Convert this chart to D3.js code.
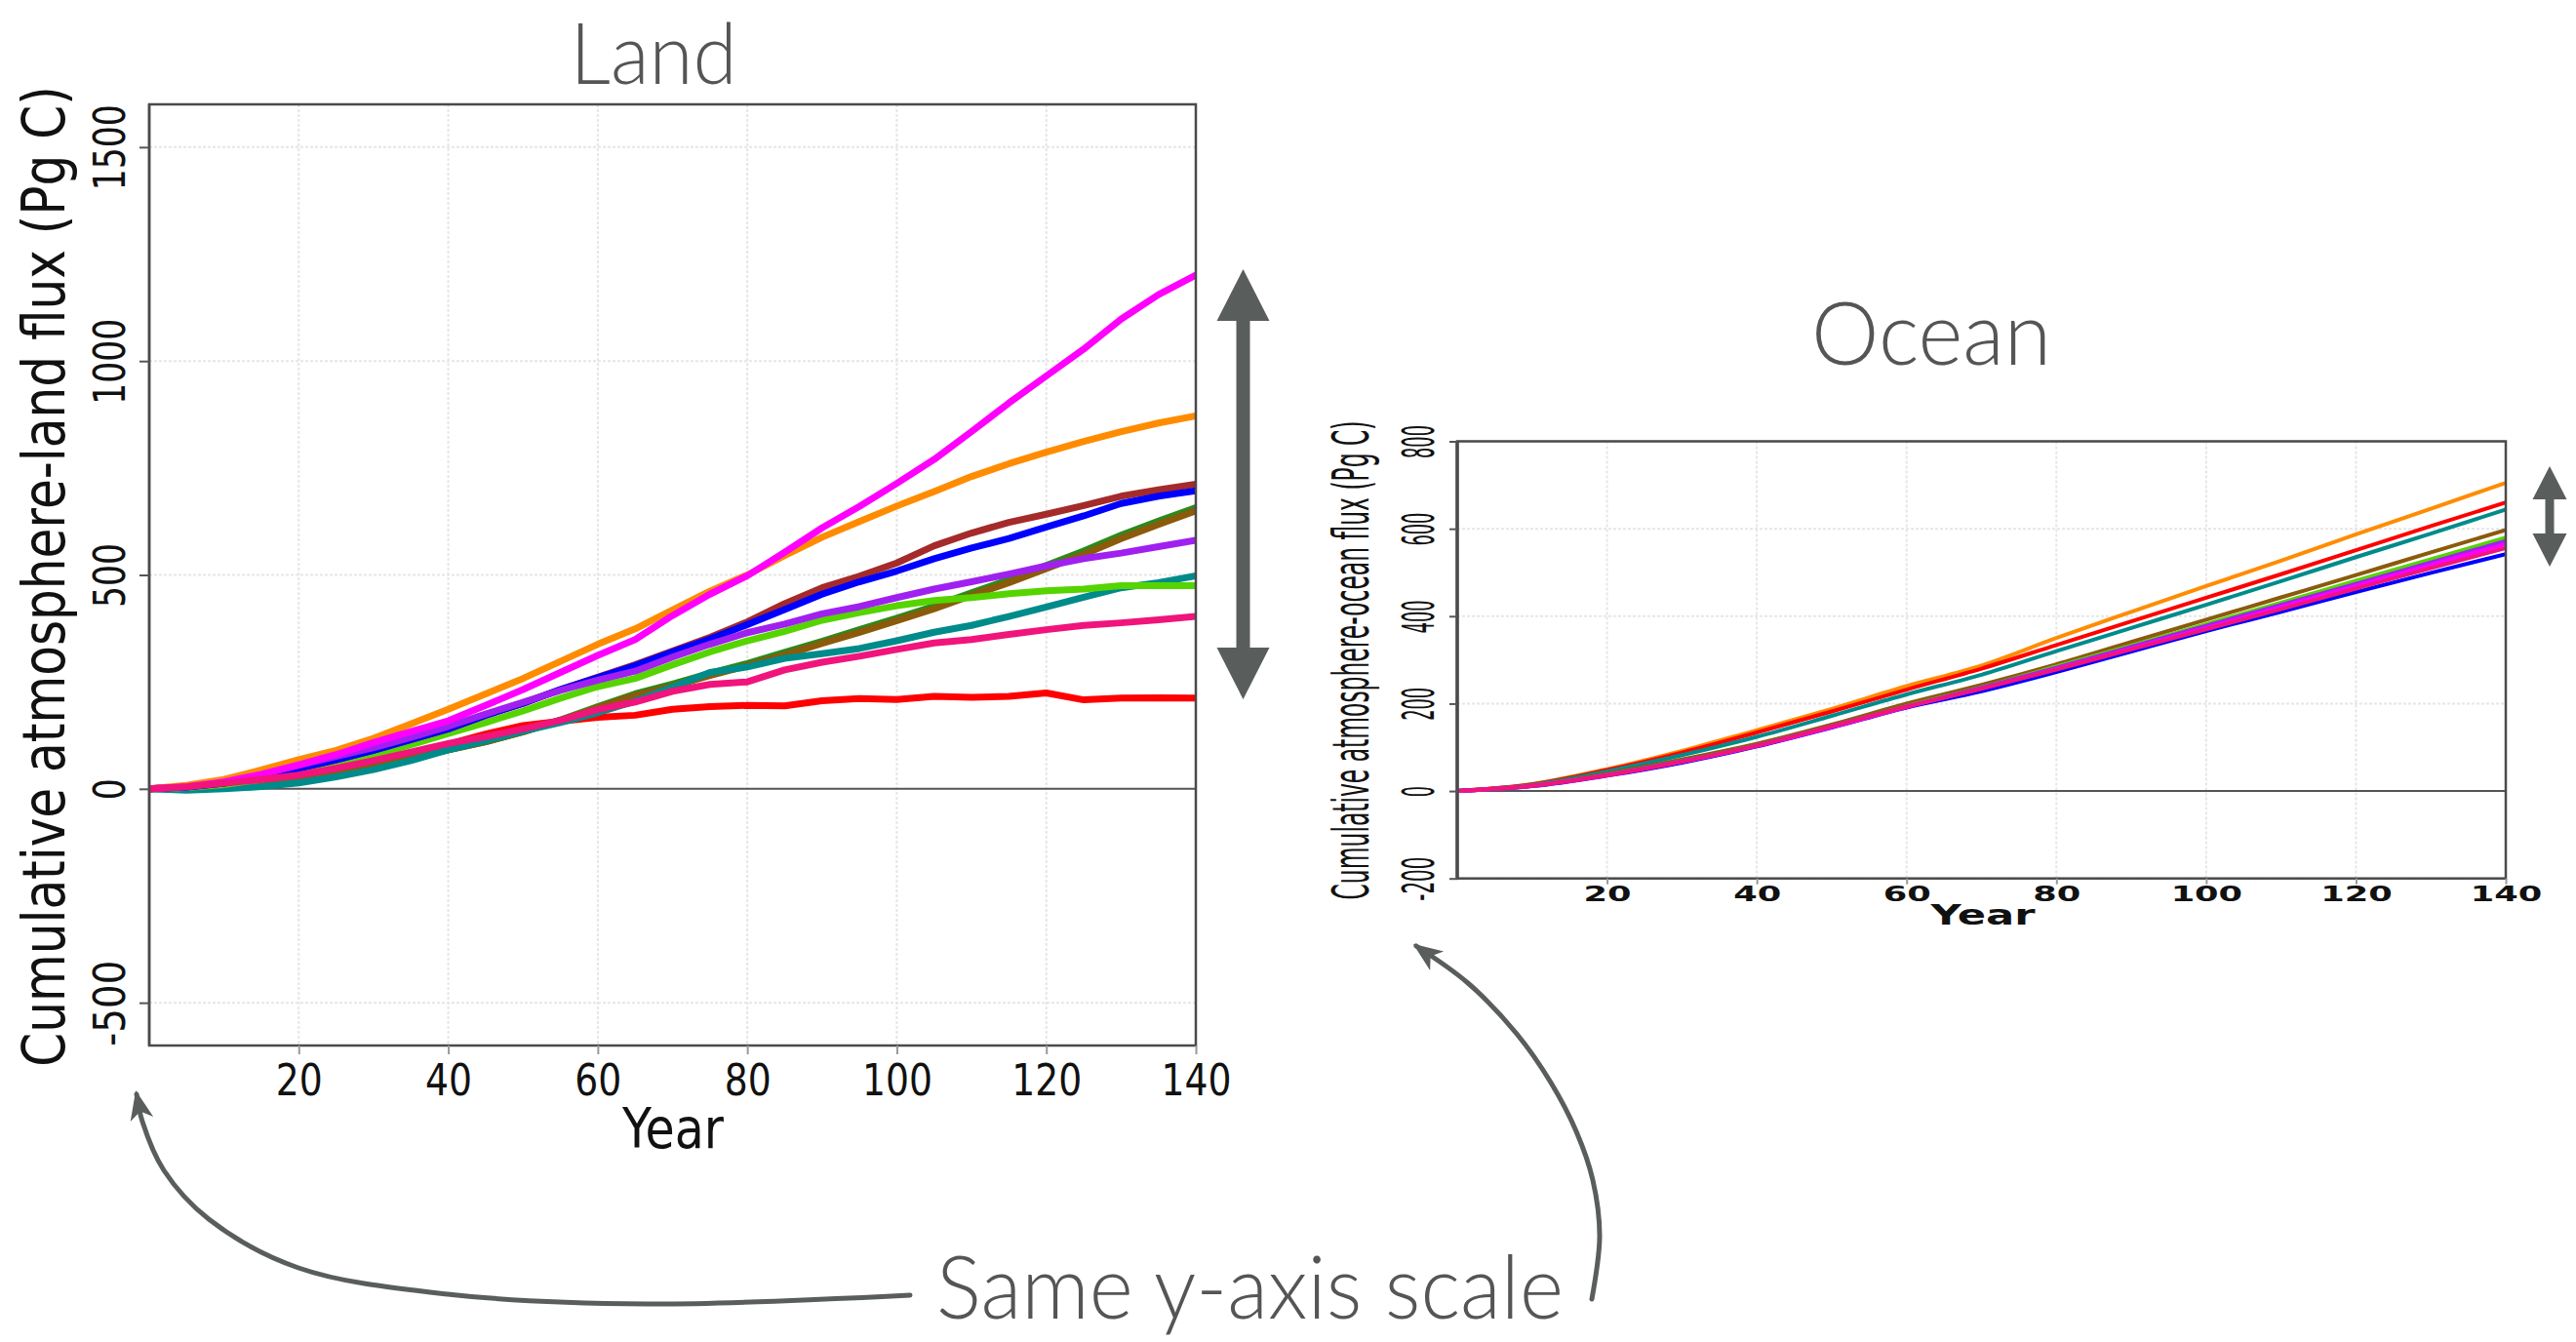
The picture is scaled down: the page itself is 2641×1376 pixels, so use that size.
<!DOCTYPE html>
<html>
<head>
<meta charset="utf-8">
<script src="https://cdn.jsdelivr.net/npm/d3@7"></script>
<style>
  body { margin: 0; background: #fff; }
  svg { display: block; }
</style>
</head>
<body>
<svg id="chart" width="2641" height="1376"></svg>
<script>
// ---- data: land (every 5 years) ----
const landYears = [0, 5, 10, 15, 20, 25, 30, 35, 40, 45, 50, 55, 60, 65, 70, 75, 80, 85, 90, 95, 100, 105, 110, 115, 120, 125, 130, 135, 140];

const landRed       = [0, 5, 13, 22, 32, 48, 66, 84, 104, 128, 148, 158, 167, 172, 186, 192, 195, 194, 206, 211, 209, 216, 214, 216, 224, 208, 212, 213, 212];
const landDarkgreen = [0, 1, 6, 14, 24, 38, 55, 72, 91, 110, 133, 161, 192, 222, 245, 270, 293, 319, 345, 372, 399, 427, 458, 489, 522, 556, 593, 626, 657];
const landBrown     = [0, 1, 6, 14, 24, 38, 55, 72, 91, 110, 133, 160, 190, 218, 240, 265, 288, 313, 340, 366, 393, 421, 452, 482, 515, 548, 585, 618, 650];
const landTeal      = [0, -3, 0, 5, 14, 28, 45, 66, 91, 112, 135, 155, 178, 205, 238, 272, 285, 305, 316, 328, 346, 366, 382, 403, 425, 448, 470, 482, 498];
const landGreen     = [0, 3, 10, 22, 38, 57, 78, 103, 129, 155, 182, 212, 239, 258, 290, 320, 346, 368, 394, 412, 428, 440, 447, 456, 463, 467, 475, 475, 475];
const landDarkred   = [0, 4, 13, 28, 48, 68, 90, 115, 140, 172, 200, 232, 261, 290, 322, 354, 390, 433, 470, 497, 528, 568, 598, 623, 642, 662, 684, 699, 712];
const landBlue      = [0, 4, 13, 28, 48, 68, 90, 115, 140, 172, 200, 232, 260, 288, 320, 350, 384, 419, 455, 484, 509, 538, 563, 585, 612, 638, 667, 684, 697];
const landPurple    = [0, 5, 16, 34, 55, 76, 96, 120, 146, 175, 202, 230, 254, 275, 308, 338, 365, 385, 409, 426, 447, 467, 484, 502, 521, 538, 551, 566, 581];
const landOrange    = [0, 8, 22, 44, 68, 90, 118, 152, 186, 222, 258, 298, 338, 374, 418, 462, 500, 545, 588, 625, 661, 695, 730, 760, 787, 812, 835, 855, 872];
const landMagenta   = [0, 5, 16, 34, 56, 80, 108, 134, 159, 195, 232, 272, 312, 349, 405, 455, 498, 553, 610, 660, 714, 770, 835, 902, 965, 1028, 1098, 1155, 1201];
const landPink      = [0, 5, 13, 22, 32, 48, 66, 86, 106, 122, 140, 160, 185, 203, 228, 244, 250, 278, 296, 310, 326, 341, 349, 361, 372, 382, 388, 395, 403];

// ---- data: ocean (every 10 years) ----
const oceanYears = [0, 10, 20, 30, 40, 50, 60, 70, 80, 90, 100, 110, 120, 130, 140];

const oceanOrange  = [0, 16, 50, 92, 139, 188, 240, 287, 350, 410, 469, 527, 587, 646, 705];
const oceanRed     = [0, 15, 48, 88, 134, 182, 232, 280, 334, 388, 442, 496, 551, 606, 660];
const oceanTeal    = [0, 14, 45, 82, 124, 172, 221, 266, 320, 373, 426, 480, 535, 589, 644];
const oceanBrown   = [0, 13, 40, 72, 108, 152, 200, 243, 290, 341, 392, 443, 494, 546, 597];
const oceanGreen   = [0, 12, 37, 68, 104, 148, 194, 237, 285, 333, 382, 431, 481, 530, 580];
const oceanBlue    = [0, 11, 35, 65, 102, 145, 191, 228, 272, 319, 366, 410, 455, 499, 542];
const oceanPurple  = [0, 12, 37, 68, 104, 148, 193, 236, 282, 330, 378, 426, 474, 523, 572];
const oceanMagenta = [0, 12, 36, 67, 103, 146, 192, 234, 279, 326, 373, 421, 469, 517, 565];
const oceanPink    = [0, 12, 36, 67, 104, 148, 193, 234, 278, 324, 370, 416, 463, 510, 556];

// ---- ticks ----
const xTicks = [20, 40, 60, 80, 100, 120, 140];
const landYTicks = [-500, 0, 500, 1000, 1500];
const oceanYTicks = [-200, 0, 200, 400, 600, 800];

const landLines = [
  { color: "#ff0000", values: landRed },
  { color: "#2b8a1c", values: landDarkgreen },
  { color: "#8b5a0b", values: landBrown },
  { color: "#008b8b", values: landTeal },
  { color: "#55d400", values: landGreen },
  { color: "#a52a2a", values: landDarkred },
  { color: "#0000ff", values: landBlue },
  { color: "#a020f0", values: landPurple },
  { color: "#ff8c00", values: landOrange },
  { color: "#ff00ff", values: landMagenta },
  { color: "#f0147c", values: landPink }
];

const oceanLines = [
  { color: "#ff8c00", values: oceanOrange },
  { color: "#ff0000", values: oceanRed },
  { color: "#008b8b", values: oceanTeal },
  { color: "#8b5a0b", values: oceanBrown },
  { color: "#55d400", values: oceanGreen },
  { color: "#0000ff", values: oceanBlue },
  { color: "#a020f0", values: oceanPurple },
  { color: "#ff00ff", values: oceanMagenta },
  { color: "#f0147c", values: oceanPink }
];

const svg = d3.select("#chart");
const annot = "#595e5d";
const axisFont = "'DejaVu Sans', Verdana, sans-serif";
const titleFont = "Lato, 'Open Sans', sans-serif";

// squeeze or stretch a text along its baseline so it spans `len` pixels
function fit(sel, len) {
  sel.each(function (d) {
    let target = typeof len === "function" ? len(d) : len;
    let k = target / this.getComputedTextLength();
    let t = d3.select(this).attr("transform") || "";
    d3.select(this).attr("transform", `${t} scale(${k},1)`);
  });
}

function panel(o) {
  let x = d3.scaleLinear().domain([0, 140]).range(o.xRange);
  let y = d3.scaleLinear().domain(o.yDomain).range(o.yRange);
  let left = o.xRange[0], right = o.xRange[1];
  let top = o.yRange[1], bottom = o.yRange[0];

  let g = svg.append("g");

  g.append("clipPath").attr("id", o.id + "-clip")
    .append("rect")
    .attr("x", left).attr("y", top)
    .attr("width", right - left).attr("height", bottom - top);

  // grid
  g.append("g").selectAll("line")
    .data(xTicks.filter(t => t < 140))
    .join("line")
    .attr("x1", d => x(d)).attr("x2", d => x(d))
    .attr("y1", top).attr("y2", bottom)
    .attr("stroke", "#e6e6e6").attr("stroke-width", 2).attr("stroke-dasharray", "3,2");

  g.append("g").selectAll("line")
    .data(o.yTicks.filter(t => t !== 0))
    .join("line")
    .attr("x1", left).attr("x2", right)
    .attr("y1", d => y(d)).attr("y2", d => y(d))
    .attr("stroke", "#e6e6e6").attr("stroke-width", 2).attr("stroke-dasharray", "3,2");

  // zero line
  g.append("line")
    .attr("x1", left).attr("x2", right)
    .attr("y1", y(0)).attr("y2", y(0))
    .attr("stroke", "#555").attr("stroke-width", 2);

  // series
  let line = d3.line()
    .x((d, i) => x(o.years[i]))
    .y(d => y(d))
    .curve(o.curve);

  g.append("g")
    .attr("clip-path", `url(#${o.id}-clip)`)
    .selectAll("path")
    .data(o.lines)
    .join("path")
    .attr("d", d => line(d.values))
    .attr("fill", "none")
    .attr("stroke", d => d.color)
    .attr("stroke-width", o.lineWidth)
    .attr("stroke-linejoin", "round")
    .attr("stroke-linecap", "round");

  // frame
  g.append("rect")
    .attr("x", left).attr("y", top)
    .attr("width", right - left).attr("height", bottom - top)
    .attr("fill", "none").attr("stroke", "#4a4a4a").attr("stroke-width", 2.5);

  g.append("line")
    .attr("x1", left).attr("x2", left).attr("y1", top).attr("y2", bottom)
    .attr("stroke", "#4a4a4a").attr("stroke-width", o.leftAxisWidth);

  // y axis, labels turned to read upwards
  let yAxis = g.append("g")
    .attr("transform", `translate(${left},0)`)
    .call(d3.axisLeft(y).tickValues(o.yTicks).tickSize(o.yTickLen).tickFormat(d => String(d)));
  yAxis.select(".domain").remove();
  yAxis.selectAll(".tick line").attr("stroke", "#555").attr("stroke-width", 2);
  yAxis.selectAll(".tick text")
    .attr("x", 0).attr("y", 0).attr("dy", 0)
    .attr("transform", `translate(${o.yLabelOffset},0) rotate(-90)`)
    .attr("text-anchor", "middle")
    .attr("font-family", axisFont)
    .attr("font-size", o.yTickFont)
    .attr("fill", "#111")
    .call(fit, d => String(d).length * o.yCharW);

  // x axis
  let xAxis = g.append("g")
    .attr("transform", `translate(0,${bottom})`)
    .call(d3.axisBottom(x).tickValues(xTicks).tickSize(o.xTickLen).tickFormat(d => String(d)));
  xAxis.select(".domain").remove();
  xAxis.selectAll(".tick line").attr("stroke", "#999").attr("stroke-width", 2);
  xAxis.selectAll(".tick text")
    .attr("y", 0).attr("dy", 0)
    .attr("transform", `translate(0,${o.xLabelOffset})`)
    .attr("font-family", axisFont)
    .attr("font-size", o.xTickFont)
    .attr("font-weight", o.xWeight)
    .attr("fill", "#111")
    .call(fit, d => String(d).length * o.xCharW);

  // axis titles
  g.append("text")
    .attr("transform", `translate(${o.xTitle[0]},${o.xTitle[1]})`)
    .attr("text-anchor", "middle")
    .attr("font-family", axisFont)
    .attr("font-size", o.xTitle[2])
    .attr("font-weight", o.xWeight)
    .attr("fill", "#111")
    .text("Year")
    .call(fit, o.xTitle[3]);

  g.append("text")
    .attr("transform", `translate(${o.yTitle[0]},${o.yTitle[1]}) rotate(-90)`)
    .attr("text-anchor", "middle")
    .attr("font-family", axisFont)
    .attr("font-size", o.yTitle[2])
    .attr("fill", "#111")
    .text(o.yLabel)
    .call(fit, o.yTitle[3]);

  // panel title
  svg.append("text")
    .attr("transform", `translate(${o.title[0]},${o.title[1]})`)
    .attr("text-anchor", "middle")
    .attr("font-family", titleFont)
    .attr("font-weight", 300)
    .attr("font-size", o.title[3])
    .attr("fill", "#555")
    .text(o.name)
    .call(fit, o.title[2]);
}

panel({
  id: "land", name: "Land",
  years: landYears, lines: landLines, curve: d3.curveLinear, lineWidth: 7,
  xRange: [153, 1226], yDomain: [-600, 1600], yRange: [1072, 107],
  yTicks: landYTicks, yTickLen: 10, yLabelOffset: -25, yTickFont: 45, yCharW: 22,
  xTickLen: 9, xLabelOffset: 51, xTickFont: 45, xCharW: 24, xWeight: "normal",
  leftAxisWidth: 2.5,
  xTitle: [690, 1177, 57, 104],
  yTitle: [66, 591, 60, 1006],
  yLabel: "Cumulative atmosphere-land flux (Pg C)",
  title: [670, 86, 171, 87]
});

panel({
  id: "ocean", name: "Ocean",
  years: oceanYears, lines: oceanLines, curve: d3.curveMonotoneX, lineWidth: 4,
  xRange: [1494, 2569], yDomain: [-200, 800], yRange: [900.7, 452.5],
  yTicks: oceanYTicks, yTickLen: 8, yLabelOffset: -24, yTickFont: 45, yCharW: 11.3,
  xTickLen: 6, xLabelOffset: 23, xTickFont: 21, xCharW: 24.5, xWeight: "bold",
  leftAxisWidth: 3.5,
  xTitle: [2033, 948, 28, 107],
  yTitle: [1403, 677, 52, 491],
  yLabel: "Cumulative atmosphere-ocean flux (Pg C)",
  title: [1980, 374, 246, 90]
});

// ---- annotations ----
function doubleArrow(cx, y1, y2, headLen, headHalf, shaftHalf) {
  let pts = [
    [cx, y1], [cx + headHalf, y1 + headLen], [cx + shaftHalf, y1 + headLen],
    [cx + shaftHalf, y2 - headLen], [cx + headHalf, y2 - headLen], [cx, y2],
    [cx - headHalf, y2 - headLen], [cx - shaftHalf, y2 - headLen],
    [cx - shaftHalf, y1 + headLen], [cx - headHalf, y1 + headLen]
  ];
  svg.append("path").attr("d", "M" + pts.join("L") + "Z").attr("fill", annot);
}
doubleArrow(1274.5, 276, 717, 53, 27, 7);
doubleArrow(2614, 478, 581, 34, 17.5, 4.5);

function curvedArrow(points) {
  svg.append("path")
    .attr("d", d3.line().curve(d3.curveCatmullRom)(points))
    .attr("fill", "none").attr("stroke", annot).attr("stroke-width", 5)
    .attr("stroke-linecap", "round");
  let tip = points[points.length - 1], prev = points[points.length - 2];
  let a = Math.atan2(tip[1] - prev[1], tip[0] - prev[0]);
  let L = 26, W = 12, N = 8;
  let ux = Math.cos(a), uy = Math.sin(a), px = -uy, py = ux;
  let head = [
    [tip[0] + ux * 4, tip[1] + uy * 4],
    [tip[0] - ux * L + px * W, tip[1] - uy * L + py * W],
    [tip[0] - ux * (L - N), tip[1] - uy * (L - N)],
    [tip[0] - ux * L - px * W, tip[1] - uy * L - py * W]
  ];
  svg.append("path").attr("d", "M" + head.join("L") + "Z").attr("fill", annot);
}
curvedArrow([[933, 1328], [663, 1337], [459, 1327], [306, 1300], [214, 1250], [168, 1200], [146, 1150], [140, 1122]]);
curvedArrow([[1632, 1332], [1640, 1267], [1633, 1210], [1616, 1160], [1590, 1110], [1555, 1060], [1505, 1008], [1452, 970]]);

svg.append("text")
  .attr("transform", "translate(960,1352)")
  .attr("font-family", titleFont)
  .attr("font-weight", 300)
  .attr("font-size", 90)
  .attr("fill", "#555")
  .text("Same y-axis scale")
  .call(fit, 643);
</script>
</body>
</html>
